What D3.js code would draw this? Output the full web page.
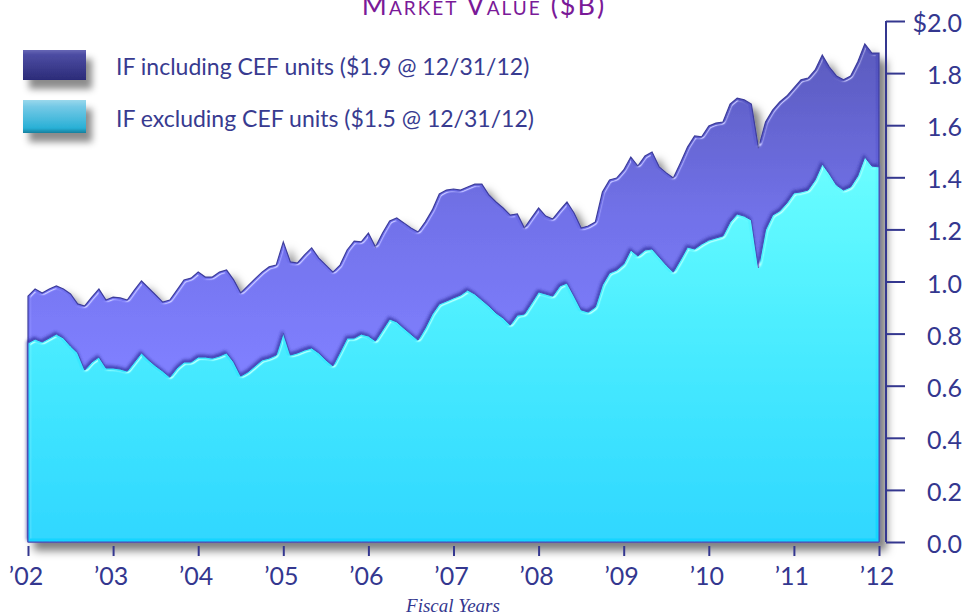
<!DOCTYPE html>
<html>
<head>
<meta charset="utf-8">
<script src="https://cdnjs.cloudflare.com/ajax/libs/d3/7.8.5/d3.min.js"></script>
<style>
  body { margin: 0; background: #fff; }
  svg { display: block; }
</style>
</head>
<body>
<script>
// market value chart, monthly values in $B
var w = 968;
var h = 616;

// series values, one per month from start of FY02 to end of FY12
var inclCEF = [
  0.944, 0.971, 0.956, 0.971, 0.983, 0.971, 0.952, 0.914, 0.906, 0.940, 0.971, 0.929,
  0.940, 0.937, 0.929, 0.967, 1.002, 0.975, 0.948, 0.921, 0.929, 0.967, 1.006, 1.013,
  1.036, 1.017, 1.017, 1.036, 1.044, 1.006, 0.956, 0.983, 1.010, 1.036, 1.056, 1.063,
  1.152, 1.075, 1.071, 1.102, 1.129, 1.090, 1.063, 1.036, 1.063, 1.121, 1.155, 1.152,
  1.186, 1.132, 1.186, 1.232, 1.244, 1.225, 1.205, 1.190, 1.228, 1.274, 1.336, 1.351,
  1.355, 1.351, 1.363, 1.374, 1.374, 1.332, 1.305, 1.282, 1.255, 1.259, 1.205, 1.244,
  1.282, 1.251, 1.240, 1.274, 1.305, 1.263, 1.205, 1.213, 1.228, 1.344, 1.390, 1.397,
  1.428, 1.478, 1.443, 1.482, 1.497, 1.440, 1.417, 1.397, 1.455, 1.516, 1.559, 1.555,
  1.597, 1.608, 1.612, 1.681, 1.704, 1.697, 1.681, 1.512, 1.612, 1.658, 1.689, 1.712,
  1.743, 1.774, 1.781, 1.812, 1.869, 1.823, 1.789, 1.774, 1.789, 1.843, 1.912, 1.877,
  1.877
];
var exclCEF = [
  0.764, 0.779, 0.768, 0.783, 0.798, 0.783, 0.752, 0.726, 0.660, 0.691, 0.710, 0.668,
  0.668, 0.664, 0.656, 0.691, 0.726, 0.699, 0.676, 0.656, 0.633, 0.668, 0.691, 0.691,
  0.710, 0.710, 0.706, 0.714, 0.726, 0.691, 0.637, 0.653, 0.676, 0.699, 0.706, 0.718,
  0.802, 0.718, 0.726, 0.737, 0.745, 0.726, 0.699, 0.676, 0.729, 0.783, 0.783, 0.798,
  0.791, 0.772, 0.814, 0.856, 0.845, 0.821, 0.798, 0.775, 0.821, 0.875, 0.914, 0.925,
  0.937, 0.948, 0.967, 0.952, 0.929, 0.906, 0.879, 0.860, 0.833, 0.871, 0.875, 0.917,
  0.960, 0.952, 0.944, 0.983, 0.994, 0.944, 0.891, 0.883, 0.902, 0.987, 1.033, 1.044,
  1.067, 1.121, 1.098, 1.121, 1.125, 1.094, 1.063, 1.036, 1.083, 1.132, 1.125, 1.144,
  1.159, 1.167, 1.175, 1.228, 1.259, 1.251, 1.236, 1.052, 1.198, 1.255, 1.271, 1.301,
  1.340, 1.344, 1.351, 1.390, 1.451, 1.413, 1.370, 1.351, 1.363, 1.405, 1.478, 1.443,
  1.440
];
// month positions in fiscal years
var months = d3.range(inclCEF.length).map(function(i){ return 2002 + i / 12; });

// tick labels
var yearTicks = [2002, 2003, 2004, 2005, 2006, 2007, 2008, 2009, 2010, 2011, 2012];
var yearLabels = ["\u201902", "\u201903", "\u201904", "\u201905", "\u201906", "\u201907",
                  "\u201908", "\u201909", "\u201910", "\u201911", "\u201912"];
var valueTicks = [0, 0.2, 0.4, 0.6, 0.8, 1.0, 1.2, 1.4, 1.6, 1.8, 2.0];
var valueLabels = ["0.0", "0.2", "0.4", "0.6", "0.8", "1.0", "1.2", "1.4", "1.6", "1.8", "$2.0"];

var legendLabels = ["IF including CEF units ($1.9 @ 12/31/12)",
                    "IF excluding CEF units ($1.5 @ 12/31/12)"];

var ink = "#34378f";

// scales
var x = d3.scaleLinear().domain([2002, 2012]).range([28, 879]);
var y = d3.scaleLinear().domain([0, 2]).range([542, 21]);

var svg = d3.select("body").append("svg")
  .attr("width", w)
  .attr("height", h);

var defs = svg.append("defs");

// drop shadow
var shadow = defs.append("filter").attr("id", "shadow")
  .attr("x", "-10%").attr("y", "-10%").attr("width", "130%").attr("height", "130%");
shadow.append("feDropShadow")
  .attr("dx", 7).attr("dy", 8).attr("stdDeviation", 4.5)
  .attr("flood-color", "#000").attr("flood-opacity", 0.5);

var smallShadow = defs.append("filter").attr("id", "smallShadow")
  .attr("x", "-20%").attr("y", "-20%").attr("width", "160%").attr("height", "200%");
smallShadow.append("feDropShadow")
  .attr("dx", 6).attr("dy", 9).attr("stdDeviation", 3.5)
  .attr("flood-color", "#000").attr("flood-opacity", 0.45);

// dark rim just above the cyan edge
var rim = defs.append("filter").attr("id", "rim")
  .attr("x", "-5%").attr("y", "-5%").attr("width", "110%").attr("height", "110%");
rim.append("feDropShadow")
  .attr("dx", -1).attr("dy", -2).attr("stdDeviation", 1.5)
  .attr("flood-color", "#2c2c96").attr("flood-opacity", 0.7);

// bevel on the area edges
var bevel = defs.append("filter").attr("id", "bevel")
  .attr("x", "-2%").attr("y", "-2%").attr("width", "104%").attr("height", "104%");
bevel.append("feGaussianBlur").attr("in", "SourceAlpha").attr("stdDeviation", 1.6).attr("result", "b");
var spec = bevel.append("feSpecularLighting")
  .attr("in", "b").attr("surfaceScale", 4).attr("specularConstant", 0.9)
  .attr("specularExponent", 30).attr("lighting-color", "#ffffff").attr("result", "s");
spec.append("feDistantLight").attr("azimuth", 235).attr("elevation", 40);
bevel.append("feComposite").attr("in", "s").attr("in2", "SourceAlpha")
  .attr("operator", "in").attr("result", "s2");
bevel.append("feComposite").attr("in", "SourceGraphic").attr("in2", "s2")
  .attr("operator", "arithmetic").attr("k1", 0).attr("k2", 1).attr("k3", 0.5).attr("k4", 0);

// gradients
function vGrad(id, stops, y1, y2){
  var g = defs.append("linearGradient").attr("id", id)
    .attr("gradientUnits", "userSpaceOnUse")
    .attr("x1", 0).attr("x2", 0).attr("y1", y1).attr("y2", y2);
  stops.forEach(function(s){
    g.append("stop").attr("offset", s[0]).attr("stop-color", s[1]);
  });
}
vGrad("purpleFill", [[0, "#4f4fb8"], [0.55, "#6a6ae6"], [1, "#7878fb"]], 40, 360);
vGrad("cyanFill", [[0, "#62fbff"], [0.4, "#42ecff"], [1, "#14d4ff"]], 160, 540);
vGrad("box1", [[0, "#6767b5"], [0.15, "#4d4da3"], [1, "#2b2b78"]], 50, 80);
vGrad("box2", [[0, "#9ad8ec"], [0.2, "#74c9e6"], [0.85, "#2ab0d6"], [1, "#137f9d"]], 100, 133);

// areas
var area = d3.area()
  .x(function(d, i){ return x(months[i]); })
  .y0(y(0))
  .y1(function(d){ return y(d); });

var plot = svg.append("g").attr("filter", "url(#shadow)");
plot.append("path")
  .datum(inclCEF)
  .attr("d", area)
  .attr("fill", "url(#purpleFill)")
  .attr("stroke", "#3d3d9c")
  .attr("stroke-width", 1.2)
  .attr("filter", "url(#bevel)");
plot.append("g").attr("filter", "url(#rim)")
  .append("path")
  .datum(exclCEF)
  .attr("d", area)
  .attr("fill", "url(#cyanFill)")
  .attr("stroke", "#4a4ab8")
  .attr("stroke-width", 1)
  .attr("filter", "url(#bevel)");

// y axis on the right
var yAxis = svg.append("g")
  .attr("transform", "translate(886,0)")
  .call(d3.axisRight(y).tickValues(valueTicks).tickSize(19)
    .tickFormat(function(d, i){ return valueLabels[i]; }));
yAxis.select(".domain").attr("stroke", ink).attr("stroke-width", 2)
  .attr("d", "M0," + y(2) + "V" + y(0));
yAxis.selectAll(".tick line").attr("stroke", ink).attr("stroke-width", 2);
yAxis.selectAll(".tick text")
  .attr("x", 76)
  .attr("dy", "0.42em")
  .attr("text-anchor", "end")
  .attr("fill", ink)
  .attr("font-family", "Lato, 'Open Sans', sans-serif")
  .attr("font-size", "25px");

// x axis
var xAxis = svg.append("g")
  .attr("transform", "translate(0,546)")
  .call(d3.axisBottom(x).tickValues(yearTicks).tickSize(10)
    .tickFormat(function(d, i){ return yearLabels[i]; }));
xAxis.select(".domain").remove();
xAxis.selectAll(".tick line").attr("stroke", ink).attr("stroke-width", 2);
xAxis.selectAll(".tick text")
  .attr("y", 21)
  .attr("dy", "0.71em")
  .attr("dx", "-0.1em")
  .attr("fill", ink)
  .attr("font-family", "Lato, 'Open Sans', sans-serif")
  .attr("font-size", "25px");

// titles
svg.append("text")
  .attr("x", 484)
  .attr("y", 15)
  .attr("text-anchor", "middle")
  .attr("fill", "#7a1a98")
  .attr("font-family", "Lato, 'Open Sans', sans-serif")
  .attr("font-size", "27px")
  .attr("letter-spacing", "2px")
  .style("font-variant", "small-caps")
  .text("Market Value ($B)");

svg.append("text")
  .attr("x", 453)
  .attr("y", 612)
  .attr("text-anchor", "middle")
  .attr("fill", ink)
  .attr("font-family", "'Liberation Serif', serif")
  .attr("font-style", "italic")
  .attr("font-size", "19px")
  .text("Fiscal Years");

// legend
var legend = svg.selectAll(".legend")
  .data(legendLabels)
  .enter()
  .append("g")
  .attr("class", "legend");
legend.append("rect")
  .attr("x", 23)
  .attr("y", function(d, i){ return i === 0 ? 50 : 100; })
  .attr("width", 63)
  .attr("height", function(d, i){ return i === 0 ? 30 : 33; })
  .attr("fill", function(d, i){ return i === 0 ? "url(#box1)" : "url(#box2)"; })
  .attr("filter", "url(#smallShadow)");
legend.append("text")
  .attr("x", 116)
  .attr("y", function(d, i){ return i === 0 ? 75 : 127; })
  .attr("fill", "#383b90")
  .attr("font-family", "Lato, 'Open Sans', sans-serif")
  .attr("font-size", "23px")
  .text(function(d){ return d; });
</script>
</body>
</html>
